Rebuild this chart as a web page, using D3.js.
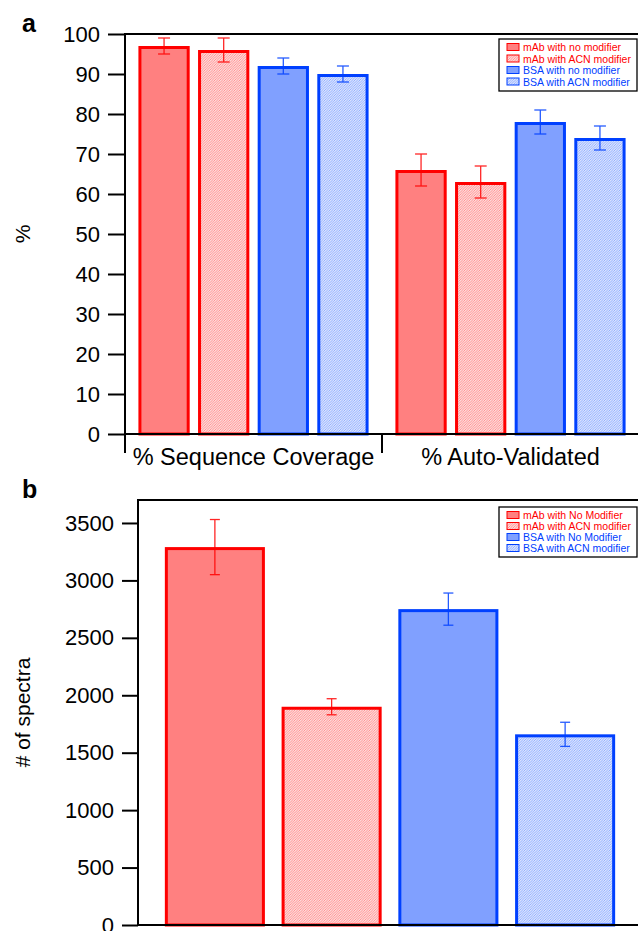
<!DOCTYPE html>
<html><head><meta charset="utf-8">
<script src="https://cdn.jsdelivr.net/npm/d3@7"></script>
<style>
html,body{margin:0;padding:0;background:#fff;}
svg{display:block;font-family:"Liberation Sans",Arial,Helvetica,sans-serif;}
</style></head>
<body>
<svg id="chart" width="638" height="931"></svg>
<script>
// ---------- data ----------
const categoriesA = ["% Sequence Coverage", "% Auto-Validated"];
const seriesA = ["mAb with no modifier", "mAb with ACN modifier", "BSA with no modifier", "BSA with ACN modifier"];
const mAbNoA = [97, 66];
const mAbAcnA = [96, 63];
const bsaNoA = [92, 78];
const bsaAcnA = [90, 74];
const mAbNoErrA = [2, 4];
const mAbAcnErrA = [3, 4];
const bsaNoErrA = [2, 3];
const bsaAcnErrA = [2, 3];
const yTicksA = [0, 10, 20, 30, 40, 50, 60, 70, 80, 90, 100];

const seriesB = ["mAb with No Modifier", "mAb with ACN modifier", "BSA with No Modifier", "BSA with ACN modifier"];
const valuesB = [3290, 1900, 2750, 1660];
const errB = [240, 70, 140, 105];
const yTicksB = [0, 500, 1000, 1500, 2000, 2500, 3000, 3500];

// ---------- styles ----------
const red = "#ff0000", redFill = "#ff8080";
const blue = "#0040ff", blueFill = "#80a0ff";
const styles = [
  {stroke: red, fill: redFill},
  {stroke: red, fill: "url(#hatchRed)"},
  {stroke: blue, fill: blueFill},
  {stroke: blue, fill: "url(#hatchBlue)"}
];

const svg = d3.select("#chart");
const defs = svg.append("defs");
function hatch(id, color) {
  const p = defs.append("pattern").attr("id", id).attr("patternUnits", "userSpaceOnUse")
    .attr("width", 2.5).attr("height", 2.5);
  p.append("rect").attr("width", 2.5).attr("height", 2.5).attr("fill", "#fff");
  p.append("path").attr("d", "M-1,1 l2,-2 M0,2.5 l2.5,-2.5 M1.5,3.5 l2,-2")
    .attr("stroke", color).attr("stroke-opacity", 0.5).attr("stroke-width", 0.9);
}
hatch("hatchRed", red);
hatch("hatchBlue", blue);

const fmt = d3.format("d");

// ---------- panel a ----------
(function () {
  const left = 125, right = 639, top = 34, bottom = 434;
  const y = d3.scaleLinear().domain([0, 100]).range([bottom, top]);
  const x0 = d3.scaleBand().domain(categoriesA).range([left, right]);
  const x1 = d3.scaleBand().domain(seriesA).range([0, x0.bandwidth()])
    .paddingInner(0.14).paddingOuter(0.225);
  const vals = [mAbNoA, mAbAcnA, bsaNoA, bsaAcnA];
  const errs = [mAbNoErrA, mAbAcnErrA, bsaNoErrA, bsaAcnErrA];
  const g = svg.append("g");

  const rows = [];
  categoriesA.forEach((c, ci) => seriesA.forEach((s, si) =>
    rows.push({c, s, si, v: vals[si][ci], e: errs[si][ci]})));

  g.selectAll("rect.bar").data(rows).join("rect").attr("class", "bar")
    .attr("x", d => x0(d.c) + x1(d.s) + 1.5)
    .attr("width", x1.bandwidth() - 3)
    .attr("y", d => y(d.v) + 1.5)
    .attr("height", d => y(0) - y(d.v) - 1.5)
    .attr("fill", d => styles[d.si].fill)
    .attr("stroke", d => styles[d.si].stroke)
    .attr("stroke-width", 3);

  const eg = g.selectAll("g.err").data(rows).join("g")
    .attr("stroke", d => styles[d.si].stroke).attr("stroke-width", 1.3).attr("opacity", 0.85);
  eg.append("line").attr("x1", d => x0(d.c) + x1(d.s) + x1.bandwidth() / 2)
    .attr("x2", d => x0(d.c) + x1(d.s) + x1.bandwidth() / 2)
    .attr("y1", d => y(d.v + d.e)).attr("y2", d => y(d.v - d.e));
  [1, -1].forEach(sg => eg.append("line")
    .attr("x1", d => x0(d.c) + x1(d.s) + x1.bandwidth() / 2 - 6)
    .attr("x2", d => x0(d.c) + x1(d.s) + x1.bandwidth() / 2 + 6)
    .attr("y1", d => y(d.v + sg * d.e)).attr("y2", d => y(d.v + sg * d.e)));

  // y axis
  const ya = g.append("g").attr("transform", `translate(${left},0)`)
    .call(d3.axisLeft(y).tickValues(yTicksA).tickFormat(fmt).tickSize(17).tickPadding(8));
  ya.select(".domain").remove();
  ya.selectAll(".tick line").attr("stroke", "#000").attr("stroke-width", 2);
  ya.selectAll(".tick text").attr("font-size", 22).attr("fill", "#000")
    .attr("font-family", "Liberation Sans, Arial, sans-serif");
  g.append("line").attr("x1", left).attr("x2", left).attr("y1", top - 1).attr("y2", bottom + 1)
    .attr("stroke", "#000").attr("stroke-width", 2);
  g.append("line").attr("x1", left - 1).attr("x2", 640).attr("y1", top).attr("y2", top)
    .attr("stroke", "#000").attr("stroke-width", 2);
  g.append("line").attr("x1", left).attr("x2", 640).attr("y1", bottom).attr("y2", bottom)
    .attr("stroke", "#000").attr("stroke-width", 2);

  // x axis (category)
  const xa = g.append("g").attr("transform", `translate(0,${bottom})`)
    .call(d3.axisBottom(x0).tickSize(0).tickPadding(14));
  xa.select(".domain").remove();
  xa.selectAll(".tick text").attr("font-size", 23.5).attr("fill", "#000")
    .attr("font-family", "Liberation Sans, Arial, sans-serif");
  [left, x0(categoriesA[1])].forEach(bx => g.append("line")
    .attr("x1", bx).attr("x2", bx).attr("y1", bottom).attr("y2", bottom + 19)
    .attr("stroke", "#000").attr("stroke-width", 2));

  g.append("text").attr("transform", `translate(30,${(top + bottom) / 2}) rotate(-90)`)
    .attr("text-anchor", "middle").attr("font-size", 21).text("%");
  g.append("text").attr("x", 22).attr("y", 32).attr("font-size", 25).attr("font-weight", "bold").text("a");

  legend(g, seriesA, 499, 39, 138, 52, 11.5);
})();

// ---------- panel b ----------
(function () {
  const left = 138, right = 642, top = 500, bottom = 925;
  const y = d3.scaleLinear().domain([0, 3700]).range([bottom, top]);
  const x = d3.scaleBand().domain(seriesB).range([left, right]).paddingInner(0.143).paddingOuter(0.23);
  const rows = seriesB.map((s, i) => ({s, si: i, v: valuesB[i], e: errB[i]}));
  const g = svg.append("g");

  g.selectAll("rect.bar").data(rows).join("rect").attr("class", "bar")
    .attr("x", d => x(d.s) + 1.5).attr("width", x.bandwidth() - 3)
    .attr("y", d => y(d.v) + 1.5).attr("height", d => y(0) - y(d.v) - 1.5)
    .attr("fill", d => styles[d.si].fill).attr("stroke", d => styles[d.si].stroke)
    .attr("stroke-width", 3);

  const eg = g.selectAll("g.err").data(rows).join("g")
    .attr("stroke", d => styles[d.si].stroke).attr("stroke-width", 1.3).attr("opacity", 0.85);
  eg.append("line").attr("x1", d => x(d.s) + x.bandwidth() / 2).attr("x2", d => x(d.s) + x.bandwidth() / 2)
    .attr("y1", d => y(d.v + d.e)).attr("y2", d => y(d.v - d.e));
  [1, -1].forEach(sg => eg.append("line")
    .attr("x1", d => x(d.s) + x.bandwidth() / 2 - 5).attr("x2", d => x(d.s) + x.bandwidth() / 2 + 5)
    .attr("y1", d => y(d.v + sg * d.e)).attr("y2", d => y(d.v + sg * d.e)));

  const ya = g.append("g").attr("transform", `translate(${left},0)`)
    .call(d3.axisLeft(y).tickValues(yTicksB).tickFormat(fmt).tickSize(16).tickPadding(8));
  ya.select(".domain").remove();
  ya.selectAll(".tick line").attr("stroke", "#000").attr("stroke-width", 2);
  ya.selectAll(".tick text").attr("font-size", 22).attr("fill", "#000")
    .attr("font-family", "Liberation Sans, Arial, sans-serif");
  g.append("line").attr("x1", left).attr("x2", left).attr("y1", top - 1).attr("y2", bottom + 1)
    .attr("stroke", "#000").attr("stroke-width", 2);
  g.append("line").attr("x1", left - 1).attr("x2", 640).attr("y1", top).attr("y2", top)
    .attr("stroke", "#000").attr("stroke-width", 2);
  g.append("line").attr("x1", left).attr("x2", 640).attr("y1", bottom).attr("y2", bottom)
    .attr("stroke", "#000").attr("stroke-width", 2);

  g.append("text").attr("transform", `translate(30,${(top + bottom) / 2}) rotate(-90)`)
    .attr("text-anchor", "middle").attr("font-size", 21).text("# of spectra");
  g.append("text").attr("x", 22).attr("y", 498).attr("font-size", 25).attr("font-weight", "bold").text("b");

  legend(g, seriesB, 499, 507, 138, 50, 11);
})();

function legend(g, names, lx, ly, w, h, step) {
  const lg = g.append("g").attr("transform", `translate(${lx},${ly})`);
  lg.append("rect").attr("width", w).attr("height", h).attr("fill", "#fff")
    .attr("stroke", "#000").attr("stroke-width", 1.3);
  names.forEach((n, i) => {
    const cy = 8 + i * step;
    lg.append("rect").attr("x", 8).attr("y", cy - 3.5).attr("width", 12).attr("height", 7)
      .attr("fill", styles[i].fill).attr("stroke", styles[i].stroke).attr("stroke-width", 1);
    lg.append("text").attr("x", 24).attr("y", cy + 4).attr("font-size", 10.5)
      .attr("fill", styles[i].stroke).text(n);
  });
}
</script>
</body></html>
